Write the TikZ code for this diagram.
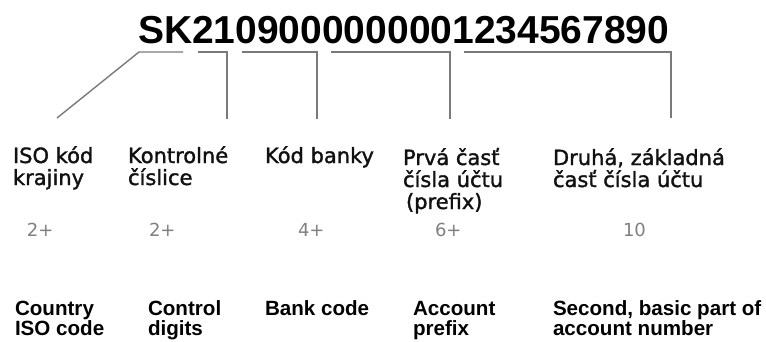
\documentclass[tikz,border=0pt]{standalone}
\usepackage{fontspec}
\setmainfont{Liberation Sans}
\newfontfamily\skfont[FakeBold=1.5]{DejaVu Sans}
\newfontfamily\numfont{DejaVu Sans}
\definecolor{linegray}{HTML}{7A7A7A}
\definecolor{numgray}{HTML}{808080}
\definecolor{sktext}{HTML}{111111}
\begin{document}
\begin{tikzpicture}[x=1pt,y=-1pt,
  every node/.style={inner sep=0pt,outer sep=0pt,anchor=base west,align=left},
  iban/.style={font=\bfseries\fontsize{39}{39}\selectfont},
  sklabel/.style={text=sktext,font=\skfont\fontsize{21}{22}\selectfont},
  numlabel/.style={text=numgray,font=\numfont\fontsize{18}{18}\selectfont},
  enlabel/.style={font=\bfseries\fontsize{20.6}{20}\selectfont},
  bracket/.style={draw=linegray,line width=1.4pt}]
\useasboundingbox (0,0) rectangle (766,341);
% IBAN
\node[iban] (iban) at (138,43) {SK2109000000001234567890};
% bracket coordinates
\coordinate (b1a) at (57,118);  \coordinate (b1b) at (139,52); \coordinate (b1c) at (183,52);
\coordinate (b2a) at (198,52);  \coordinate (b2b) at (227,52); \coordinate (b2c) at (227,119);
\coordinate (b3a) at (242,52);  \coordinate (b3b) at (317,52); \coordinate (b3c) at (317,119);
\coordinate (b4a) at (331,52);  \coordinate (b4b) at (450,52); \coordinate (b4c) at (450,119);
\coordinate (b5a) at (464,52);  \coordinate (b5b) at (671,52); \coordinate (b5c) at (671,118);
\draw[bracket] (b1a) -- (b1b) -- (b1c);
\draw[bracket] (b2a) -- (b2b) -- (b2c);
\draw[bracket] (b3a) -- (b3b) -- (b3c);
\draw[bracket] (b4a) -- (b4b) -- (b4c);
\draw[bracket] (b5a) -- (b5b) -- (b5c);
% Slovak labels (anchor = baseline of last line)
\node[sklabel] (sk1) at (13,185) {ISO kód\\krajiny};
\node[sklabel] (sk2) at (128,185) {Kontrolné\\číslice};
\node[sklabel] (sk3) at (265,163) {Kód banky};
\node[sklabel] (sk4) at (403,209) {Prvá časť\\čísla účtu\\\hspace{3pt}(prefix)};
\node[sklabel] (sk5) at (553,187) {Druhá, základná\\časť čísla účtu};
% lengths
\node[numlabel] (n1) at (27,236) {2+};
\node[numlabel] (n2) at (149,236) {2+};
\node[numlabel] (n3) at (298,236) {4+};
\node[numlabel] (n4) at (435,236) {6+};
\node[numlabel] (n5) at (623,236) {10};
% English labels
\node[enlabel] (en1) at (15,335) {Country\\ISO code};
\node[enlabel] (en2) at (148,335) {Control\\digits};
\node[enlabel] (en3) at (265,315) {Bank code};
\node[enlabel] (en4) at (413,335) {Account\\prefix};
\node[enlabel] (en5) at (553,335) {Second, basic part of\\account number};
\end{tikzpicture}
\end{document}
